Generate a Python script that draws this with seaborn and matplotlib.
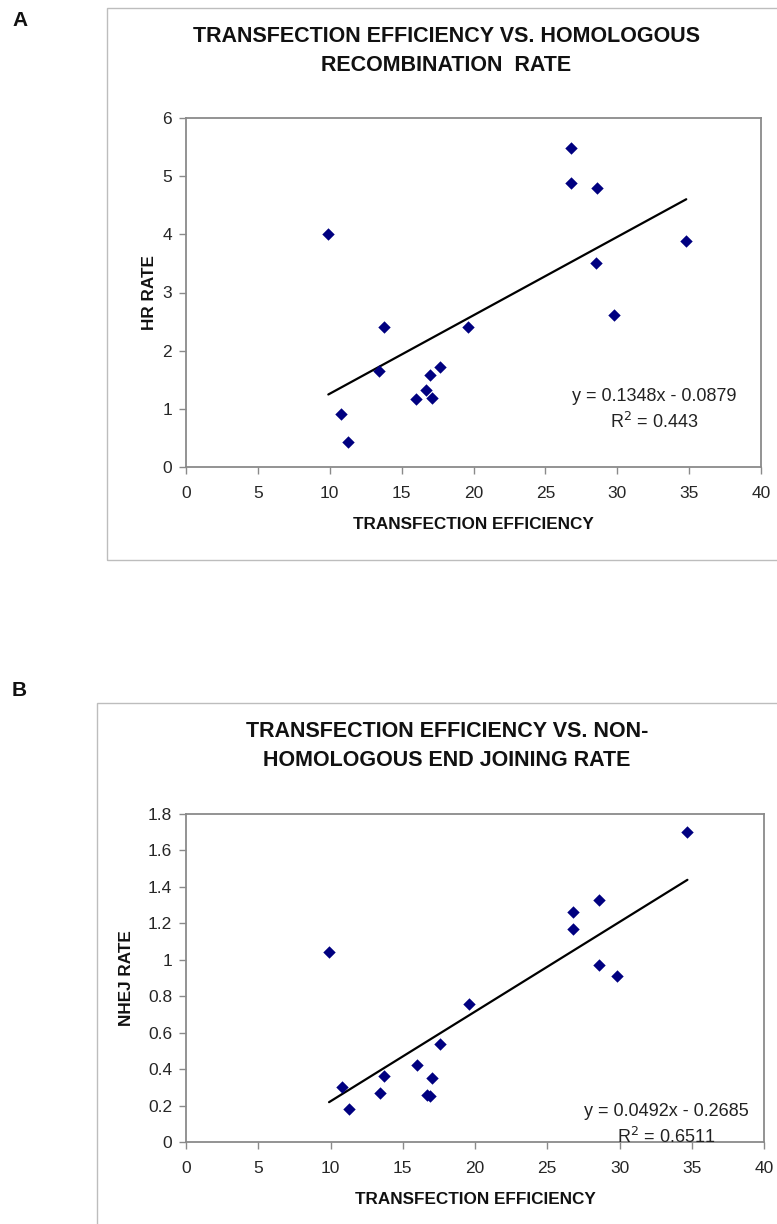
import matplotlib
matplotlib.use("Agg")
import matplotlib.pyplot as plt
import seaborn as sns
import numpy as np
import pandas as pd
from matplotlib.patches import Rectangle

sns.set_theme(style="white")
plt.rcParams['font.family'] = ['Liberation Sans', 'DejaVu Sans']

# ---- data ----
transfection = [9.9, 10.8, 11.3, 13.4, 13.8, 16.0, 16.7, 17.0, 17.1, 17.7,
                19.6, 26.8, 26.8, 28.6, 28.5, 29.8, 34.8]
hr_rate = [4.0, 0.91, 0.43, 1.65, 2.40, 1.17, 1.33, 1.59, 1.18, 1.72,
           2.40, 5.48, 4.89, 4.79, 3.51, 2.61, 3.89]
nhej_x = [9.9, 10.8, 11.3, 13.4, 13.7, 16.0, 16.7, 16.9, 17.0, 17.6,
          19.6, 26.8, 26.8, 28.6, 28.6, 29.8, 34.7]
nhej_rate = [1.04, 0.30, 0.18, 0.27, 0.36, 0.42, 0.26, 0.25, 0.35, 0.54,
             0.76, 1.26, 1.17, 1.33, 0.97, 0.91, 1.70]

hr_slope, hr_intercept, hr_r2 = 0.1348, -0.0879, "0.443"
nhej_slope, nhej_intercept, nhej_r2 = 0.0492, -0.2685, "0.6511"

x_ticks = [0, 5, 10, 15, 20, 25, 30, 35, 40]
hr_ticks = [0, 1, 2, 3, 4, 5, 6]
nhej_ticks = [0, 0.2, 0.4, 0.6, 0.8, 1, 1.2, 1.4, 1.6, 1.8]
nhej_tick_labels = ["0", "0.2", "0.4", "0.6", "0.8", "1", "1.2", "1.4", "1.6", "1.8"]

W, H = 777, 1224
fig = plt.figure(figsize=(W / 100, H / 100), dpi=100)


def fx(px):
    return px / W


def fy(py):
    return 1 - py / H


# outer boxes
fig.patches.append(Rectangle((fx(107), fy(560)), fx(800) - fx(107), fy(8) - fy(560),
                             transform=fig.transFigure, fill=False,
                             edgecolor="#bdbdbd", linewidth=1.0))
fig.patches.append(Rectangle((fx(97), fy(1300)), fx(800) - fx(97), fy(703) - fy(1300),
                             transform=fig.transFigure, fill=False,
                             edgecolor="#bdbdbd", linewidth=1.0))

navy = "#000080"
tick_fs = 12.5
label_fs = 12.3
title_fs = 15.5


def make_panel(rect, x, y, slope, intercept, r2, yticks, ylabels, ylim,
               ylabel, ylabelpad, eq_pos):
    ax = fig.add_axes(rect)
    df = pd.DataFrame({"x": x, "y": y})
    xl = np.array([min(x), max(x)])
    line_df = pd.DataFrame({"x": xl, "y": slope * xl + intercept})
    sns.lineplot(data=line_df, x="x", y="y", ax=ax, color="black", linewidth=1.6)
    sns.scatterplot(data=df, x="x", y="y", ax=ax, marker="D", s=40,
                    color=navy, edgecolor=navy, linewidth=0, zorder=3)
    ax.set_xlim(0, 40)
    ax.set_ylim(*ylim)
    ax.set_xticks(x_ticks)
    ax.set_xticklabels([str(t) for t in x_ticks])
    ax.set_yticks(yticks)
    ax.set_yticklabels(ylabels)
    for s in ax.spines.values():
        s.set_color("#8a8a8a")
        s.set_linewidth(1.3)
    ax.tick_params(axis="both", which="both", direction="out", length=5,
                   width=1, color="#8a8a8a", labelsize=tick_fs,
                   labelcolor="#262626", bottom=True, left=True, pad=5)
    ax.tick_params(axis="x", pad=9)
    ax.set_xlabel("TRANSFECTION EFFICIENCY", fontsize=label_fs,
                  fontweight="bold", color="#111111", labelpad=11)
    ax.set_ylabel(ylabel, fontsize=label_fs, fontweight="bold",
                  color="#111111", labelpad=ylabelpad)
    sgn = "-" if intercept < 0 else "+"
    eq = f"y = {slope:.4f}x {sgn} {abs(intercept):.4f}"
    ax.text(eq_pos[0], eq_pos[1], eq + "\n" + f"R$^2$ = {r2}",
            transform=fig.transFigure, ha="center", va="center",
            fontsize=13, color="#222222", linespacing=1.4)
    return ax


axA = make_panel([fx(186), fy(467), fx(761) - fx(186), fy(118) - fy(467)],
                 transfection, hr_rate, hr_slope, hr_intercept, hr_r2,
                 hr_ticks, [str(t) for t in hr_ticks], (0, 6), "HR RATE", 4,
                 (fx(654), fy(410)))
axB = make_panel([fx(186), fy(1142), fx(764) - fx(186), fy(814) - fy(1142)],
                 nhej_x, nhej_rate, nhej_slope, nhej_intercept, nhej_r2,
                 nhej_ticks, nhej_tick_labels, (0, 1.8), "NHEJ RATE", 10,
                 (fx(666), fy(1125)))

fig.text(fx(446), fy(51), "TRANSFECTION EFFICIENCY VS. HOMOLOGOUS\nRECOMBINATION  RATE",
         ha="center", va="center", fontsize=title_fs, fontweight="bold",
         color="#111111", linespacing=1.5)
fig.text(fx(447), fy(746), "TRANSFECTION EFFICIENCY VS. NON-\nHOMOLOGOUS END JOINING RATE",
         ha="center", va="center", fontsize=title_fs, fontweight="bold",
         color="#111111", linespacing=1.5)

fig.text(fx(12), fy(20), "A", ha="left", va="center", fontsize=15,
         fontweight="bold", color="#111111")
fig.text(fx(12), fy(690), "B", ha="left", va="center", fontsize=15,
         fontweight="bold", color="#111111")

fig.savefig("out.png", dpi=100, facecolor="white")
